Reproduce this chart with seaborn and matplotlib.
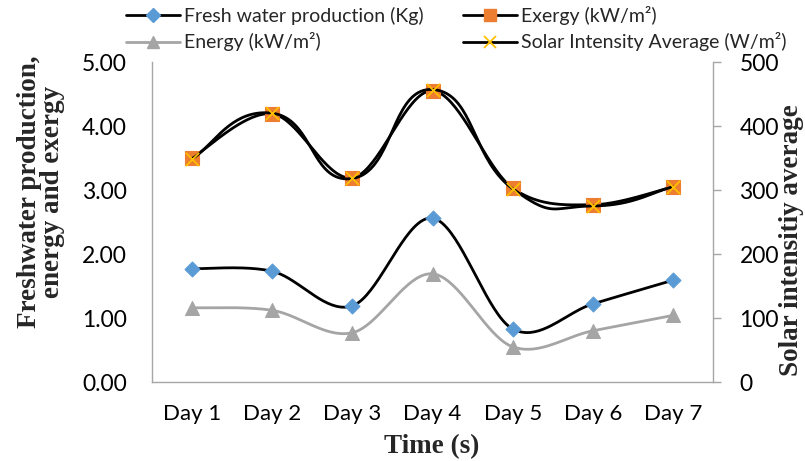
import numpy as np
import pandas as pd
import matplotlib
matplotlib.use("Agg")
import matplotlib.pyplot as plt
import seaborn as sns
from matplotlib.lines import Line2D

# ---- data ----
days = ["Day 1", "Day 2", "Day 3", "Day 4", "Day 5", "Day 6", "Day 7"]
fresh_water = [1.77, 1.73, 1.19, 2.56, 0.83, 1.22, 1.59]
exergy = [3.50, 4.19, 3.19, 4.55, 3.03, 2.77, 3.05]
energy = [1.16, 1.12, 0.77, 1.69, 0.55, 0.80, 1.04]
solar = [349, 420, 318, 457, 302, 275, 305]

left_ticks = [0, 1, 2, 3, 4, 5]
right_ticks = [0, 100, 200, 300, 400, 500]


def smooth_curve(xs, ys, k=1 / 6, n=40):
    """Excel-like smoothed line: Catmull-Rom style cubic Bezier segments."""
    xs = np.asarray(xs, float)
    ys = np.asarray(ys, float)
    P = np.column_stack([xs, ys])
    out = []
    m = len(P)
    for i in range(m - 1):
        p0 = P[i - 1] if i > 0 else P[i]
        p1 = P[i]
        p2 = P[i + 1]
        p3 = P[i + 2] if i + 2 < m else P[i + 1]
        c1 = p1 + (p2 - p0) * k
        c2 = p2 - (p3 - p1) * k
        t = np.linspace(0, 1, n)[:, None]
        seg = ((1 - t) ** 3) * p1 + 3 * ((1 - t) ** 2) * t * c1 + 3 * (1 - t) * t ** 2 * c2 + t ** 3 * p2
        if i > 0:
            seg = seg[1:]
        out.append(seg)
    out = np.vstack(out)
    return out[:, 0], out[:, 1]


sns.set_theme(style="white")
plt.rcParams['font.family'] = ['Lato', 'DejaVu Sans']

fig = plt.figure(figsize=(8.05, 4.61), dpi=100)
ax = fig.add_axes([152 / 805, 1 - 382 / 461, (713 - 152) / 805, (382 - 62) / 461])
ax2 = ax.twinx()

xpos = np.arange(len(days))
df = pd.DataFrame({"x": xpos, "fresh": fresh_water, "exergy": exergy,
                   "energy": energy, "solar": solar})

black = "#000000"
gray_line = "#A5A5A5"

# smoothed lines
for col, color in [("energy", gray_line), ("fresh", black), ("exergy", black)]:
    sx, sy = smooth_curve(df["x"], df[col])
    sns.lineplot(x=sx, y=sy, ax=ax, color=color, lw=2.0, sort=False, estimator=None, zorder=2)
sx, sy = smooth_curve(df["x"], df["solar"], k=0.26)
sns.lineplot(x=sx, y=sy, ax=ax2, color=black, lw=2.0, sort=False, estimator=None, zorder=2)

# markers
sns.scatterplot(data=df, x="x", y="energy", ax=ax, marker="^", s=100, color="#A5A5A5",
                edgecolor="#A5A5A5", zorder=3)
sns.scatterplot(data=df, x="x", y="fresh", ax=ax, marker="D", s=60, color="#5B9BD5",
                edgecolor="#5B9BD5", zorder=3)
sns.scatterplot(data=df, x="x", y="exergy", ax=ax, marker="s", s=100, color="#ED7D31",
                edgecolor="#ED7D31", zorder=3)
sns.scatterplot(data=df, x="x", y="solar", ax=ax2, marker="x", s=90, color="#FFC000",
                linewidth=1.3, zorder=4)

ax.set_xlim(-0.5, len(days) - 0.5)
ax.set_ylim(0, 5)
ax2.set_ylim(0, 500)
ax.set_xticks(xpos)
ax.set_xticklabels(days)
ax.set_yticks(left_ticks)
ax.set_yticklabels([f"{v:.2f}" for v in left_ticks])
ax2.set_yticks(right_ticks)
ax2.set_yticklabels([str(v) for v in right_ticks])

for a in (ax, ax2):
    for s in a.spines.values():
        s.set_visible(False)
    a.grid(False)
    a.set_xlabel("")
    a.set_ylabel("")
ax.spines["left"].set_visible(True)
ax.spines["bottom"].set_visible(True)
ax2.spines["right"].set_visible(True)
for s in (ax.spines["left"], ax.spines["bottom"], ax2.spines["right"]):
    s.set_color("#A6A6A6")
    s.set_linewidth(1.0)

ax.tick_params(axis="y", length=0, pad=18, labelsize=16.5, labelcolor="#000000")
ax.tick_params(axis="x", length=0, pad=16, labelsize=16, labelcolor="#000000")
ax2.tick_params(axis="y", right=True, length=6, width=1, color="#A6A6A6", pad=13,
                labelsize=16.5, labelcolor="#000000", direction="out")

serif = ['Liberation Serif', 'DejaVu Serif']
fig.text(432 / 805, 1 - 447 / 461, "Time (s)", ha="center", va="center",
         fontsize=19.5, fontweight="bold", family=serif)
fig.text(41 / 805, 1 - 192 / 461, "Freshwater production,\nenergy and exergy", ha="center",
         va="center", rotation=90, fontsize=19.5, fontweight="bold", family=serif,
         linespacing=0.92)
fig.text(791 / 805, 1 - 240 / 461, "Solar intensitiy average", ha="center", va="center",
         rotation=90, fontsize=19.5, fontweight="bold", family=serif)

h_fresh = Line2D([], [], color=black, lw=2.0, marker="D", markersize=7,
                 markerfacecolor="#5B9BD5", markeredgecolor="#5B9BD5")
h_exergy = Line2D([], [], color=black, lw=2.0, marker="s", markersize=9,
                  markerfacecolor="#ED7D31", markeredgecolor="#ED7D31")
h_energy = Line2D([], [], color=gray_line, lw=2.0, marker="^", markersize=9,
                  markerfacecolor="#A5A5A5", markeredgecolor="#A5A5A5")
h_solar = Line2D([], [], color=black, lw=2.0, marker="x", markersize=8,
                 markeredgecolor="#FFC000", markeredgewidth=1.3)
# column-wise fill: col 1 = Fresh, Energy ; col 2 = Exergy, Solar
handles = [h_fresh, h_energy, h_exergy, h_solar]
labels = ["Fresh water production (Kg)", "Energy (kW/m²)", "Exergy (kW/m²)",
          "Solar Intensity Average (W/m²)"]
fig.legend(handles, labels, loc="center", bbox_to_anchor=(456 / 805, 1 - 28.5 / 461), ncol=2,
           frameon=False, fontsize=14, handlelength=2.8, handletextpad=0.2,
           columnspacing=2.0, labelspacing=0.4, borderpad=0.0, numpoints=1)

fig.savefig("out.png", dpi=100)
